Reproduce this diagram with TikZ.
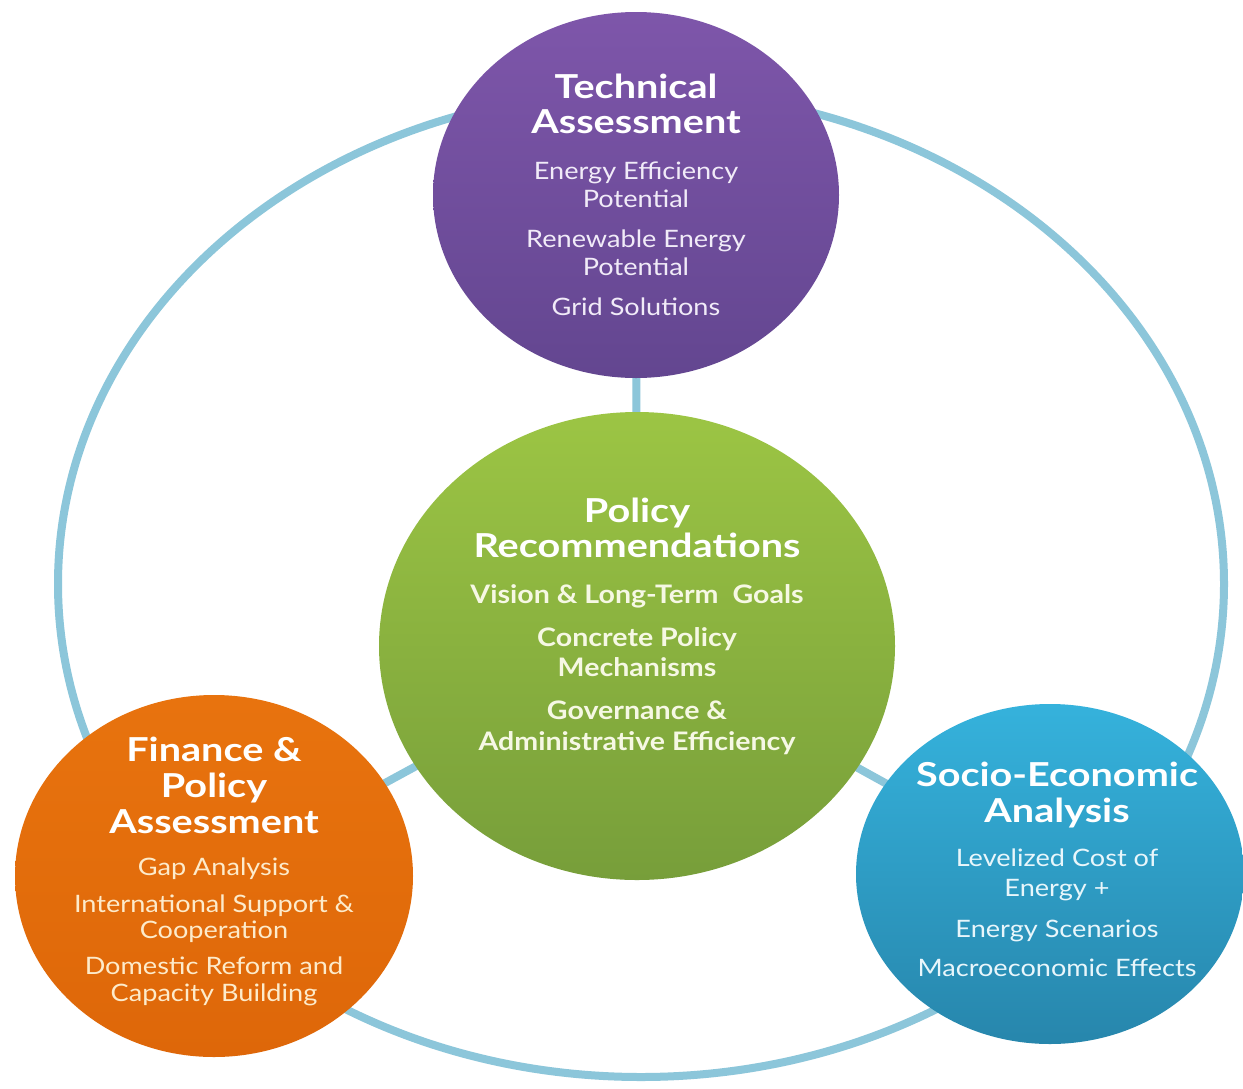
\documentclass[tikz,border=0pt]{standalone}
\usepackage{fontspec}
\usetikzlibrary{shapes.geometric,backgrounds}
\newfontfamily\titlefont[FakeStretch=1.2]{Lato}
\newfontfamily\bodyfont[FakeStretch=1.13]{Lato}
\newfontfamily\gbodyfont[FakeStretch=1.12]{Lato}
\definecolor{ringc}{HTML}{8CC6DA}
\definecolor{purpleT}{HTML}{7E56AA}
\definecolor{purpleB}{HTML}{634690}
\definecolor{greenT}{HTML}{9CC544}
\definecolor{greenB}{HTML}{779E3A}
\definecolor{orangeT}{HTML}{E8730E}
\definecolor{orangeB}{HTML}{DE6709}
\definecolor{blueT}{HTML}{35B2DC}
\definecolor{blueB}{HTML}{2786AC}
\definecolor{ptext}{HTML}{F1EBF8}
\definecolor{gtext}{HTML}{F6F8E4}
\definecolor{otext}{HTML}{FDEBCB}
\definecolor{btext}{HTML}{E8F6FB}
\tikzset{
  blob/.style={ellipse, inner sep=0pt, draw=none},
  ringline/.style={draw=ringc, line width=8pt},
  ttl/.style={anchor=base, inner sep=0pt, text=white,
    font=\titlefont\bfseries\fontsize{33}{33}\selectfont},
  bdy/.style={anchor=base, inner sep=0pt,
    font=\bodyfont\fontsize{24}{24}\selectfont},
  gbdy/.style={anchor=base, inner sep=0pt, text=gtext,
    font=\gbodyfont\bfseries\fontsize{25.5}{25.5}\selectfont},
}
\begin{document}
\begin{tikzpicture}[x=1pt,y=-1pt]
\useasboundingbox (0,0) rectangle (1243,1088);
% circles
\node[blob, minimum width=406pt, minimum height=366pt, top color=purpleT, bottom color=purpleB] (tech) at (636,195) {};
\node[blob, minimum width=516pt, minimum height=468pt, top color=greenT, bottom color=greenB] (policy) at (637,646) {};
\node[blob, minimum width=398pt, minimum height=362pt, top color=orangeT, bottom color=orangeB] (finance) at (214,876) {};
\node[blob, minimum width=388pt, minimum height=340pt, top color=blueT, bottom color=blueB] (socio) at (1050,874) {};
\begin{pgfonlayer}{background}
  \fill[white] (0,0) rectangle (1243,1088);
  \draw[ringline] (641,584) ellipse [x radius=583pt, y radius=493pt];
  \draw[ringline] (policy.center) -- (tech.center);
  \draw[ringline] (policy.center) -- (finance.center);
  \draw[ringline] (policy.center) -- (socio.center);
\end{pgfonlayer}
% Technical Assessment
\node[ttl] (t1) at (636,98) {Technical};
\node[ttl] (t2) at (636,133) {Assessment};
\node[bdy, text=ptext] (t3) at (636,179) {Energy Efficiency};
\node[bdy, text=ptext] (t4) at (636,207) {Potential};
\node[bdy, text=ptext] (t5) at (636,247) {Renewable Energy};
\node[bdy, text=ptext] (t6) at (636,275) {Potential};
\node[bdy, text=ptext] (t7) at (636,315) {Grid Solutions};
% Policy Recommendations
\node[ttl] (g1) at (637,522) {Policy};
\node[ttl] (g2) at (637,557) {Recommendations};
\node[gbdy] (g3) at (637,603) {Vision \& Long-Term\ \ Goals};
\node[gbdy] (g4) at (637,646) {Concrete Policy};
\node[gbdy] (g5) at (637,676) {Mechanisms};
\node[gbdy] (g6) at (637,719) {Governance \&};
\node[gbdy] (g7) at (637,750) {Administrative Efficiency};
% Finance & Policy Assessment
\node[ttl] (f1) at (214,761) {Finance \&};
\node[ttl] (f2) at (214,797) {Policy};
\node[ttl] (f3) at (214,833) {Assessment};
\node[bdy, text=otext] (f4) at (214,875) {Gap Analysis};
\node[bdy, text=otext] (f5) at (214,912) {International Support \&};
\node[bdy, text=otext] (f6) at (214,938) {Cooperation};
\node[bdy, text=otext] (f7) at (214,974) {Domestic Reform and};
\node[bdy, text=otext] (f8) at (214,1001) {Capacity Building};
% Socio-Economic Analysis
\node[ttl] (s1) at (1057,786) {Socio-Economic};
\node[ttl] (s2) at (1057,822) {Analysis};
\node[bdy, text=btext] (s3) at (1057,866) {Levelized Cost of};
\node[bdy, text=btext] (s4) at (1057,896) {Energy +};
\node[bdy, text=btext] (s5) at (1057,937) {Energy Scenarios};
\node[bdy, text=btext] (s6) at (1057,976) {Macroeconomic Effects};
\end{tikzpicture}
\end{document}
